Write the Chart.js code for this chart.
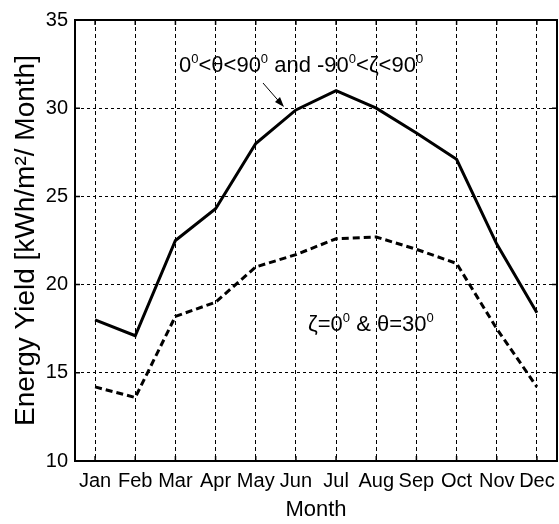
<!DOCTYPE html>
<html>
<head>
<meta charset="utf-8">
<script src="https://cdn.jsdelivr.net/npm/chart.js@4"></script>
<style>
    html, body { margin: 0; padding: 0; background: #fff; }
    #wrap { width: 559px; height: 524px; }
</style>
</head>
<body>
<div id="wrap"><canvas id="yieldChart" width="559" height="524"></canvas></div>
<script>
const months = ['Jan', 'Feb', 'Mar', 'Apr', 'May', 'Jun', 'Jul', 'Aug', 'Sep', 'Oct', 'Nov', 'Dec'];
const optimalYield = [18.0, 17.1, 22.5, 24.3, 28.0, 29.9, 31.0, 30.0, 28.6, 27.1, 22.3, 18.4];
const fixedYield = [14.2, 13.6, 18.2, 19.0, 21.0, 21.7, 22.6, 22.7, 22.0, 21.2, 17.5, 14.2];
const yTicks = [10, 15, 20, 25, 30, 35];

const FONT = '"Liberation Sans", Arial, sans-serif';

// draws text pieces, some of them as superscripts
function drawRich(ctx, x, y, parts, size) {
    ctx.save();
    ctx.fillStyle = '#000';
    ctx.textBaseline = 'alphabetic';
    let cx = x;
    parts.forEach(p => {
        if (p.sup) {
            ctx.font = Math.round(size * 0.6) + 'px ' + FONT;
            ctx.fillText(p.t, cx, y - size * 0.42);
        } else {
            ctx.font = size + 'px ' + FONT;
            ctx.fillText(p.t, cx, y);
        }
        cx += ctx.measureText(p.t).width;
    });
    ctx.restore();
}

const frame = {
    id: 'frame',
    afterDraw(chart) {
        const ctx = chart.ctx;
        const a = chart.chartArea;
        const xs = chart.scales.x;
        const ys = chart.scales.y;
        ctx.save();
        ctx.strokeStyle = '#000';
        ctx.lineWidth = 1.5;
        // inner ticks on all four edges
        ctx.beginPath();
        months.forEach((m, i) => {
            const px = xs.getPixelForValue(i);
            ctx.moveTo(px, a.top); ctx.lineTo(px, a.top + 5);
            ctx.moveTo(px, a.bottom); ctx.lineTo(px, a.bottom - 5);
        });
        yTicks.forEach(v => {
            const py = ys.getPixelForValue(v);
            ctx.moveTo(a.right, py); ctx.lineTo(a.right - 5, py);
            ctx.moveTo(a.left, py); ctx.lineTo(a.left + 5, py);
        });
        ctx.stroke();
        ctx.lineWidth = 2;
        ctx.strokeRect(a.left, a.top, a.right - a.left, a.bottom - a.top);

        // arrow to the solid curve
        ctx.lineWidth = 1;
        ctx.beginPath();
        ctx.moveTo(263, 83);
        ctx.lineTo(283, 106);
        ctx.stroke();
        ctx.beginPath();
        ctx.moveTo(284, 107);
        ctx.lineTo(275, 102);
        ctx.lineTo(280, 97);
        ctx.closePath();
        ctx.fill();
        ctx.restore();

        drawRich(ctx, 179, 72, [
            { t: '0' }, { t: '0', sup: true }, { t: '<θ<90' }, { t: '0', sup: true },
            { t: ' and -90' }, { t: '0', sup: true }, { t: '<ζ<90' }, { t: '0', sup: true }
        ], 22);
        drawRich(ctx, 308, 331, [
            { t: 'ζ=0' }, { t: '0', sup: true }, { t: ' & θ=30' }, { t: '0', sup: true }
        ], 22);
    }
};

new Chart(document.getElementById('yieldChart'), {
    type: 'line',
    data: {
        labels: months,
        datasets: [{
            data: optimalYield,
            borderColor: '#000',
            borderWidth: 3,
            pointRadius: 0,
            tension: 0
        }, {
            data: fixedYield,
            borderColor: '#000',
            borderWidth: 3,
            borderDash: [7, 4],
            pointRadius: 0,
            tension: 0
        }]
    },
    options: {
        responsive: false,
        animation: false,
        devicePixelRatio: 1,
        layout: { padding: { top: 20, right: 2, left: 0, bottom: 0 } },
        plugins: {
            legend: { display: false },
            tooltip: { enabled: false }
        },
        scales: {
            x: {
                offset: true,
                grid: {
                    offset: false,
                    color: '#000',
                    lineWidth: 1,
                    drawTicks: false
                },
                border: { display: false, dash: [4, 3] },
                ticks: {
                    color: '#000',
                    padding: 8,
                    maxRotation: 0,
                    autoSkip: false,
                    font: { family: FONT, size: 20 }
                },
                title: {
                    display: true,
                    text: 'Month',
                    color: '#000',
                    padding: { top: 0, bottom: 1 },
                    font: { family: FONT, size: 22 }
                },
                afterFit(scale) {
                    scale.height = 63;
                    scale.paddingLeft = 0;
                    scale.paddingRight = 0;
                }
            },
            y: {
                min: 10,
                max: 35,
                afterBuildTicks(scale) { scale.ticks = yTicks.map(v => ({ value: v })); },
                grid: {
                    color: '#000',
                    lineWidth: 1,
                    drawTicks: false
                },
                border: { display: false, dash: [3, 3] },
                ticks: {
                    color: '#000',
                    padding: 7,
                    font: { family: FONT, size: 20 }
                },
                title: {
                    display: true,
                    text: 'Energy Yield [kWh/m²/ Month]',
                    color: '#000',
                    padding: { top: 9, bottom: 0 },
                    font: { family: FONT, size: 28 }
                },
                afterFit(scale) { scale.width = 75; }
            }
        }
    },
    plugins: [frame]
});
</script>
</body>
</html>
